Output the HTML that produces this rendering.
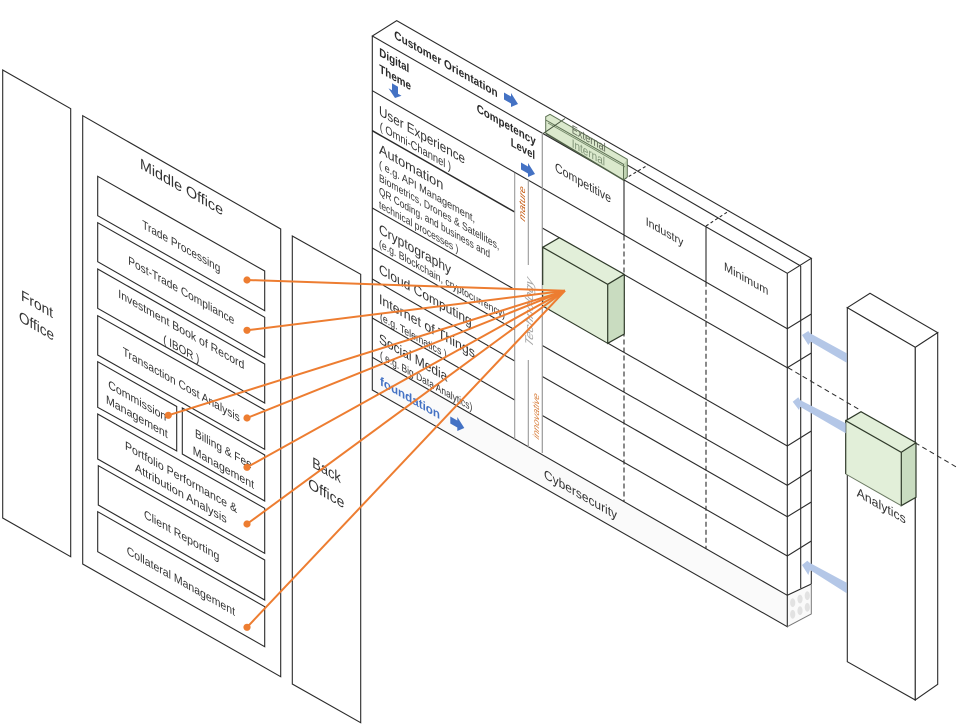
<!DOCTYPE html>
<html><head><meta charset="utf-8"><style>
html,body{margin:0;padding:0;background:#fff;width:958px;height:726px;overflow:hidden}
svg{display:block;filter:blur(.35px)}
text{font-family:"Liberation Sans",sans-serif;fill:#333}
.l{fill:none;stroke:#2a2a2a;stroke-width:1.1}
.p{fill:#fff;stroke:#2a2a2a;stroke-width:1.1}
.o{stroke:#ed7d31;stroke-width:2;fill:none}
.d{fill:#ed7d31}
.b{fill:#4472c4}
.a{fill:#b4c7e7}
</style></head><body>
<svg width="958" height="726" viewBox="0 0 958 726" xmlns="http://www.w3.org/2000/svg">
<!-- panels -->
<polygon class="p" points="2.7,70 70.7,108.7 70.7,556.7 2.7,518"/>
<polygon class="p" points="82.7,115.7 280.7,229 280.7,676.7 82.7,564"/>
<polygon class="p" points="292.3,236 360.7,274.3 360.7,722.7 292.3,684"/>
<polygon class="p" points="97.7,176.3 264.7,271 264.7,310.7 97.7,215.7"/>
<polygon class="p" points="97.7,222.7 264.7,317.3 264.7,357.3 97.7,261.7"/>
<polygon class="p" points="97.7,269 264.7,364 264.7,403 97.7,308.3"/>
<polygon class="p" points="97.7,315.7 264.7,410 264.7,449.3 97.7,355"/>
<polygon class="p" points="97.7,361.7 176.7,406.5 176.7,451 97.7,407.3"/>
<polygon class="p" points="182.3,408 264.7,455 264.7,501 182.3,454"/>
<polygon class="p" points="97.7,414 264.7,508.3 264.7,553.3 97.7,459"/>
<polygon class="p" points="98.3,465.7 264.7,560 264.7,600 98.3,505"/>
<polygon class="p" points="97.7,511.7 264.7,606.7 264.7,646.7 97.7,551.7"/>
<!-- matrix -->
<polygon points="372.3,357.3 787.3,595.3 787.3,626.7 372.3,390" fill="#fafafa"/>
<polygon points="787.3,595.3 811.3,584 811.3,614 787.3,626.7" fill="#fafafa"/>
<g fill="#e2e2e2">
<ellipse cx="792.7" cy="602.7" rx="2.6" ry="4.4"/><ellipse cx="800" cy="599" rx="2.6" ry="4.4"/><ellipse cx="807.3" cy="595.7" rx="2.6" ry="4.4"/>
<ellipse cx="792.7" cy="614.3" rx="2.6" ry="4.4"/><ellipse cx="800" cy="610.7" rx="2.6" ry="4.4"/><ellipse cx="807.3" cy="607.3" rx="2.6" ry="4.4"/>
</g>
<g class="l">
<path d="M372.3,36V390L787.3,626.7V273.3L372.3,36L396.7,20.7L811.3,258.3L787.3,273.3"/>
<path d="M811.3,258.3V584"/>
<path d="M800.7,266V588.3"/>
<path d="M546,117.8L800.7,266"/>
<path d="M372.3,90.7L787.3,328.7L811.3,314"/>
<path d="M372.3,130.7L514.7,212" stroke-width="1.5"/>
<path d="M542.3,228L787.3,367.7L811.3,353"/>
<path d="M372.3,208L514.7,289.5M542.3,305.5L787.3,446L811.3,431"/>
<path d="M372.3,248L514.7,329.7M542.3,345.5L787.3,485.3L811.3,470"/>
<path d="M372.3,279L514.7,361M542.3,376.5L787.3,516.7L811.3,502"/>
<path d="M372.3,318L514.7,400M542.3,415.5L787.3,556L811.3,541"/>
<path d="M372.3,357.3L787.3,595.3L811.3,584"/>
<path d="M624,180V235.5M706,226.7V281.7"/>
<path d="M624,235.5V501.7M706,281.7V549" stroke-dasharray="5 3"/>
<path d="M624,179.3L648,165M706,226L729.3,210.7" stroke-dasharray="3 2.5"/>
</g>
<path d="M787.3,626.7L811.3,614V584" fill="none" stroke="#777" stroke-width="1"/>
<path d="M514.7,173V439M528.3,180V265M528.3,360V447" stroke="#999" stroke-width="1.1" fill="none"/>
<path d="M542.3,133V453" stroke="#999" stroke-width="1.2" fill="none"/>
<!-- green top strip -->
<polygon points="545.7,116.7 550,114.3 627.3,159.3 627.3,177 623.5,180 545.7,133.3" fill="#dbe9cd"/>
<polygon points="623.5,164.3 627.3,159.3 627.3,177 623.5,180" fill="#c2d5b4"/>
<path d="M545.7,133.3V116.7L550,114.3L627.3,159.3V177L623.5,180V164.3L545.7,120" fill="none" stroke="#5e7254" stroke-width="1"/>
<path d="M548,123L625,167" fill="none" stroke="#6f8465" stroke-width=".8"/>
<path d="M545.7,133.3L623.5,180" fill="none" stroke="#4f6047" stroke-width="1.6"/>
<path d="M543.5,133.3L565,118.5" fill="none" stroke="#45543e" stroke-width="1"/>
<!-- cube -->
<polygon points="542.7,247.3 559.3,237.7 624.3,274.3 607.7,284.3" fill="#e2efd9"/>
<polygon points="542.7,247.3 607.7,284.3 607.7,343.3 542.7,306" fill="#e2efd9"/>
<polygon points="607.7,284.3 624.3,274.3 624.3,334 607.7,343.3" fill="#c9dcc0"/>
<path d="M542.7,285V247.3L607.7,284.3V343.3L624.3,334V274.3L559.3,237.7L542.7,247.3M607.7,284.3L624.3,274.3" fill="none" stroke="#2f3a2a" stroke-width="1.2"/>
<path d="M542.7,306L607.7,343.3" fill="none" stroke="#2f3a2a" stroke-width="1.1"/>
<path d="M542.7,290V307" stroke="#222" stroke-dasharray="3 2" stroke-width="1"/>
<!-- analytics pillar -->
<polygon class="p" points="847.3,307.7 870,293.3 937.7,332.7 915.3,347.3"/>
<polygon class="p" points="847.3,307.7 915.3,347.3 915.3,700 847.3,661.7"/>
<polygon class="p" points="915.3,347.3 937.7,332.7 937.7,684.3 915.3,700"/>
<path d="M788,367.7L860,410M915,442.7L958,468" fill="none" stroke="#2a2a2a" stroke-dasharray="5 3.5" stroke-width="1"/>
<polygon points="845.7,420.7 861,411.7 916,442.7 901.3,452.3" fill="#e2efd9"/>
<polygon points="845.7,420.7 901.3,452.3 901.3,505.7 845.7,474" fill="#e2efd9"/>
<polygon points="901.3,452.3 916,442.7 916,497.3 901.3,505.7" fill="#c9dcc0"/>
<path d="M845.7,474V420.7L901.3,452.3V505.7L916,497.3V442.7L861,411.7L845.7,420.7M901.3,452.3L916,442.7" fill="none" stroke="#2f3a2a" stroke-width="1.2"/>
<path d="M845.7,474L901.3,505.7" fill="none" stroke="#6b7a63" stroke-width="1"/>
<!-- light blue arrows -->
<polygon class="a" points="808.3,331 802,335 808.3,345 810.7,341.7 846.7,362.7 846.7,353.3 810,333.3"/>
<polygon class="a" points="798.3,397.3 792.7,401.7 799,410 800,406.7 845.7,433.3 845.7,423.3 800,400"/>
<polygon class="a" points="807.3,560.7 802,565 808.3,575 810,570 846.7,593.3 846.7,582.7 810,563"/>
<!-- small blue arrows -->
<polygon class="b" transform="translate(395,92) skewY(29.8)" points="-3,-7 3,-7 3,0 6.5,0 0,6 -6.5,0 -3,0"/>
<polygon class="b" transform="translate(511,100) skewY(29.8)" points="-7,-3.5 0,-3.5 0,-7 7,0 0,7 0,3.5 -7,3.5"/>
<polygon class="b" transform="translate(528,170) skewY(29.8)" points="-7,-3.5 0,-3.5 0,-7 7,0 0,7 0,3.5 -7,3.5"/>
<polygon class="b" transform="translate(457.3,424) skewY(29.8)" points="-7,-3.5 0,-3.5 0,-7 7,0 0,7 0,3.5 -7,3.5"/>
<!-- labels -->
<g font-size="15">
<text transform="translate(21,300) skewY(29.8)" textLength="32" lengthAdjust="spacingAndGlyphs">Front</text>
<text transform="translate(19,321) skewY(29.8)" textLength="35" lengthAdjust="spacingAndGlyphs">Office</text>
<text transform="translate(140,168.3) skewY(29.8)" textLength="83" lengthAdjust="spacingAndGlyphs">Middle Office</text>
<text transform="translate(312.3,467) skewY(29.8)" textLength="28.5" lengthAdjust="spacingAndGlyphs">Back</text>
<text transform="translate(308.3,488) skewY(29.8)" textLength="36" lengthAdjust="spacingAndGlyphs">Office</text>
</g>
<g font-size="12">
<text transform="translate(142.3,228) skewY(29.8)" textLength="78" lengthAdjust="spacingAndGlyphs">Trade Processing</text>
<text transform="translate(128.3,264) skewY(29.8)" textLength="106" lengthAdjust="spacingAndGlyphs">Post-Trade Compliance</text>
<text transform="translate(118.3,297.3) skewY(29.8)" textLength="126" lengthAdjust="spacingAndGlyphs">Investment Book of Record</text>
<text transform="translate(163.3,342.7) skewY(29.8)" textLength="36" lengthAdjust="spacingAndGlyphs">( IBOR )</text>
<text transform="translate(122.7,355) skewY(29.8)" textLength="117" lengthAdjust="spacingAndGlyphs">Transaction Cost Analysis</text>
<text transform="translate(108.3,388) skewY(29.8)" textLength="58" lengthAdjust="spacingAndGlyphs">Commission</text>
<text transform="translate(106,403) skewY(29.8)" textLength="61.7" lengthAdjust="spacingAndGlyphs">Management</text>
<text transform="translate(195,436.7) skewY(29.8)" textLength="56.7" lengthAdjust="spacingAndGlyphs">Billing &amp; Fee</text>
<text transform="translate(192.7,454) skewY(29.8)" textLength="61.3" lengthAdjust="spacingAndGlyphs">Management</text>
<text transform="translate(125,449) skewY(29.8)" textLength="112" lengthAdjust="spacingAndGlyphs">Portfolio Performance &amp;</text>
<text transform="translate(135,471) skewY(29.8)" textLength="91.7" lengthAdjust="spacingAndGlyphs">Attribution Analysis</text>
<text transform="translate(144,517.7) skewY(29.8)" textLength="75.3" lengthAdjust="spacingAndGlyphs">Client Reporting</text>
<text transform="translate(126.7,554) skewY(29.8)" textLength="108.3" lengthAdjust="spacingAndGlyphs">Collateral Management</text>
</g>
<g font-size="12" font-weight="bold">
<text style="fill:#2a2a2a" transform="translate(394.3,38.3) skewY(29.8)" textLength="103.4" lengthAdjust="spacingAndGlyphs">Customer Orientation</text>
<text style="fill:#2a2a2a" transform="translate(379.3,55.7) skewY(29.8)" textLength="30" lengthAdjust="spacingAndGlyphs">Digital</text>
<text style="fill:#2a2a2a" transform="translate(379.3,72.3) skewY(29.8)" textLength="31.7" lengthAdjust="spacingAndGlyphs">Theme</text>
<text style="fill:#2a2a2a" transform="translate(476.7,111.7) skewY(29.8)" textLength="59" lengthAdjust="spacingAndGlyphs">Competency</text>
<text style="fill:#2a2a2a" transform="translate(510.7,145.7) skewY(29.8)" textLength="24.3" lengthAdjust="spacingAndGlyphs">Level</text>
</g>
<g font-size="14">
<text transform="translate(379,115) skewY(29.8)" textLength="86" lengthAdjust="spacingAndGlyphs">User Experience</text>
<text transform="translate(379,153.3) skewY(29.8)" textLength="64.3" lengthAdjust="spacingAndGlyphs">Automation</text>
<text transform="translate(379,233.3) skewY(29.8)" textLength="72" lengthAdjust="spacingAndGlyphs">Cryptography</text>
<text transform="translate(379,273.3) skewY(29.8)" textLength="92.7" lengthAdjust="spacingAndGlyphs">Cloud Computing</text>
<text transform="translate(379,303.3) skewY(29.8)" textLength="96" lengthAdjust="spacingAndGlyphs">Internet of Things</text>
<text transform="translate(379,342.7) skewY(29.8)" textLength="68.3" lengthAdjust="spacingAndGlyphs">Social Media</text>
</g>
<g font-size="11">
<text font-size="12" transform="translate(379.7,130) skewY(29.8)" textLength="71.3" lengthAdjust="spacingAndGlyphs">( Omni-Channel )</text>
<text transform="translate(379,167.7) skewY(29.8)" textLength="96" lengthAdjust="spacingAndGlyphs">( e.g. API Management,</text>
<text transform="translate(379,181) skewY(29.8)" textLength="120.3" lengthAdjust="spacingAndGlyphs">Biometrics, Drones &amp; Satellites,</text>
<text transform="translate(379,194.3) skewY(29.8)" textLength="111" lengthAdjust="spacingAndGlyphs">QR Coding, and business and</text>
<text transform="translate(379,207.7) skewY(29.8)" textLength="79.3" lengthAdjust="spacingAndGlyphs">technical processes )</text>
<text transform="translate(379,246.7) skewY(29.8)" textLength="126" lengthAdjust="spacingAndGlyphs">(e.g. Blockchain, cryptocurrency)</text>
<text transform="translate(380,320) skewY(29.8)" textLength="66.7" lengthAdjust="spacingAndGlyphs">(e.g. Telematics )</text>
<text transform="translate(380,358.3) skewY(29.8)" textLength="92.3" lengthAdjust="spacingAndGlyphs">( e.g. Big Data Analytics)</text>
</g>
<text font-size="12.5" font-weight="bold" style="fill:#4472c4" transform="translate(380,385) skewY(29.8)" textLength="60" lengthAdjust="spacingAndGlyphs">foundation</text>
<g font-size="13">
<text transform="translate(555,171) skewY(29.8)" textLength="56" lengthAdjust="spacingAndGlyphs">Competitive</text>
<text font-size="12" transform="translate(645.7,225) skewY(29.8)" textLength="37.6" lengthAdjust="spacingAndGlyphs">Industry</text>
<text font-size="12" transform="translate(724,270) skewY(29.8)" textLength="44.3" lengthAdjust="spacingAndGlyphs">Minimum</text>
<text transform="translate(856.7,496) skewY(29.8)" textLength="49" lengthAdjust="spacingAndGlyphs">Analytics</text>
<text transform="translate(544,478) skewY(29.8)" textLength="73" lengthAdjust="spacingAndGlyphs">Cybersecurity</text>
</g>
<text font-size="12" style="fill:#5d6656" transform="translate(571.7,132.7) skewY(29.8)" textLength="34" lengthAdjust="spacingAndGlyphs">External</text>
<text font-size="12" style="fill:#7e9276" transform="translate(571.7,147) skewY(29.8)" textLength="33.3" lengthAdjust="spacingAndGlyphs">Internal</text>
<text font-size="13" font-style="italic" style="fill:#a6a6a6" transform="matrix(0,-1,.866,.5,533,348)" textLength="68" lengthAdjust="spacingAndGlyphs">Technology</text>
<text font-size="10" font-style="italic" style="fill:#c55a11" transform="matrix(0,-1,.866,.5,525,222)" textLength="34" lengthAdjust="spacingAndGlyphs">mature</text>
<text font-size="10" font-style="italic" style="fill:#d9803f" transform="matrix(0,-1,.866,.5,539,440)" textLength="45" lengthAdjust="spacingAndGlyphs">innovative</text>
<!-- orange connectors -->
<g class="o">
<path d="M247,280L565,290.7"/><path d="M247,330.3L565,290.7"/><path d="M168.3,415.3L565,290.7"/>
<path d="M247,418L565,290.7"/><path d="M247,467.3L565,290.7"/><path d="M247,524L565,290.7"/><path d="M247,627.3L565,290.7"/>
</g>
<g class="d">
<circle cx="247" cy="280" r="3.6"/><circle cx="247" cy="330.3" r="3.6"/><circle cx="168.3" cy="415.3" r="3.6"/>
<circle cx="247" cy="418" r="3.6"/><circle cx="247" cy="467.3" r="3.6"/><circle cx="247" cy="524" r="3.6"/><circle cx="247" cy="627.3" r="3.6"/>
</g>
</svg>
</body></html>
